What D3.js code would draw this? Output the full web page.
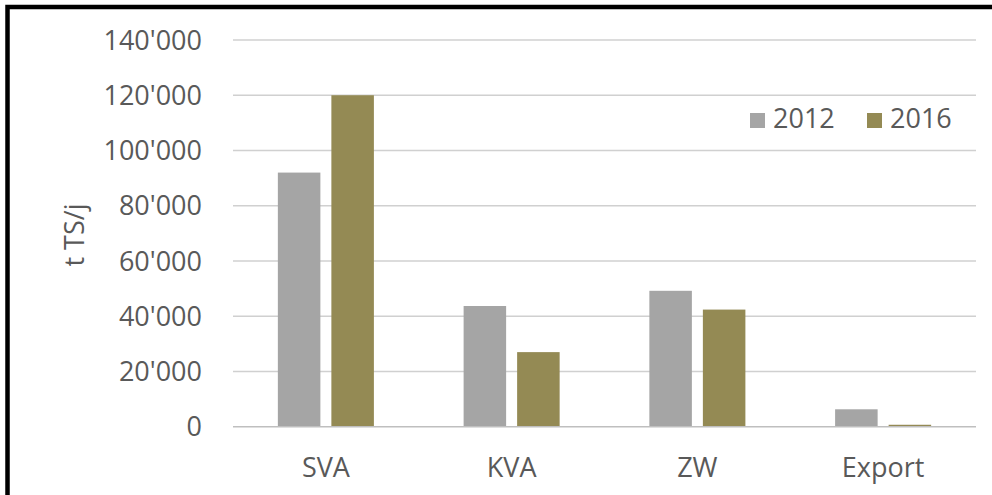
<!DOCTYPE html>
<html lang="de">
<head>
<meta charset="utf-8">
<title>t TS/j</title>
<script src="https://d3js.org/d3.v7.min.js"></script>
<style>
  html, body { margin: 0; padding: 0; background: #fff; }
  svg { display: block; }
  text { font-family: "Open Sans", sans-serif; fill: #595959; }
</style>
</head>
<body>
<svg id="chart"></svg>
<script>
// data
const categories = ["SVA", "KVA", "ZW", "Export"];
const years = ["2012", "2016"];
const values2012 = [92000, 43700, 49200, 6300];
const values2016 = [120000, 27000, 42400, 700];
const yTicks = [0, 20000, 40000, 60000, 80000, 100000, 120000, 140000];
const colors = ["#a5a5a5", "#948a54"];

const W = 992, H = 495;
const svg = d3.select("#chart").attr("width", W).attr("height", H);

// frame
svg.append("rect")
  .attr("x", 7.5).attr("y", 7).attr("width", 1000).attr("height", 600)
  .attr("fill", "none").attr("stroke", "#000").attr("stroke-width", 4.5);

const plot = {left: 233, right: 976, top: 40, bottom: 426.7};

const y = d3.scaleLinear().domain([0, 140000]).range([plot.bottom, plot.top]);
const x0 = d3.scaleBand().domain(categories).range([plot.left, plot.right])
  .paddingInner(0.483).paddingOuter(0.2415);
const x1 = d3.scaleBand().domain(years).range([0, x0.bandwidth()])
  .paddingInner(0.2056);

const fmt = d => d3.format(",")(d).replace(/,/g, "'");

// gridlines
svg.append("g")
  .selectAll("line")
  .data(yTicks.filter(d => d > 0))
  .join("line")
  .attr("x1", plot.left).attr("x2", plot.right)
  .attr("y1", d => y(d)).attr("y2", d => y(d))
  .attr("stroke", "#d0d0d0").attr("stroke-width", 1.5);

// y tick labels
svg.append("g")
  .selectAll("text")
  .data(yTicks)
  .join("text")
  .attr("x", 202)
  .attr("y", d => y(d))
  .attr("dy", "0.36em")
  .attr("text-anchor", "end")
  .style("font-size", "27px")
  .text(fmt);

// bars
const rows = categories.map((c, i) => ({cat: c, vals: [values2012[i], values2016[i]]}));
const groups = svg.append("g")
  .selectAll("g")
  .data(rows)
  .join("g")
  .attr("transform", d => `translate(${x0(d.cat)},0)`);

groups.selectAll("rect")
  .data(d => d.vals.map((v, j) => ({year: years[j], v: v, j: j})))
  .join("rect")
  .attr("x", d => x1(d.year))
  .attr("width", x1.bandwidth())
  .attr("y", d => y(d.v))
  .attr("height", d => y(0) - y(d.v))
  .attr("fill", d => colors[d.j]);

// baseline
svg.append("line")
  .attr("x1", plot.left).attr("x2", plot.right)
  .attr("y1", y(0)).attr("y2", y(0))
  .attr("stroke", "#bfbfbf").attr("stroke-width", 1.5);

// category labels
svg.append("g")
  .selectAll("text")
  .data(categories)
  .join("text")
  .attr("x", d => x0(d) + x0.bandwidth() / 2)
  .attr("y", 477)
  .attr("text-anchor", "middle")
  .style("font-size", "27px")
  .text(d => d);

// axis title
svg.append("text")
  .attr("transform", "translate(84,235) rotate(-90)")
  .attr("text-anchor", "middle")
  .style("font-size", "27px")
  .text("t TS/j");

// legend
const legendX = [750, 867];
const legend = svg.append("g")
  .selectAll("g")
  .data(years)
  .join("g")
  .attr("transform", (d, i) => `translate(${legendX[i]},113)`);
legend.append("rect")
  .attr("width", 15).attr("height", 15)
  .attr("fill", (d, i) => colors[i]);
legend.append("text")
  .attr("x", 23).attr("y", 15)
  .style("font-size", "27px")
  .text(d => d);
</script>
</body>
</html>
